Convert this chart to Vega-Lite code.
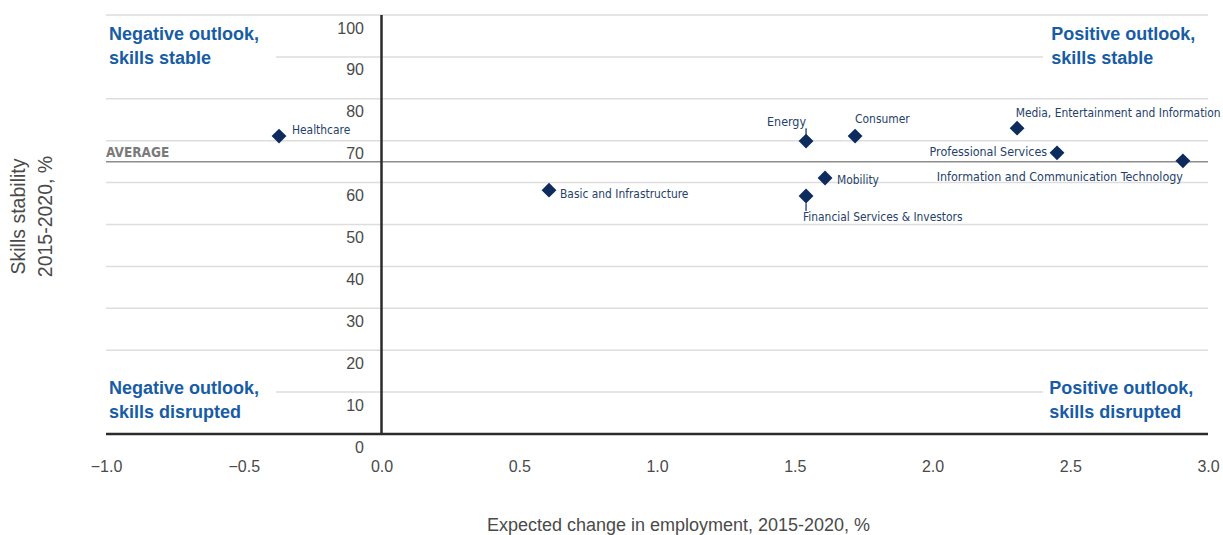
{
  "$schema": "https://vega.github.io/schema/vega-lite/v6.json",
  "width": 1102,
  "height": 419,
  "autosize": {"type": "none"},
  "padding": {"left": 106, "top": 15, "right": 15, "bottom": 101},
  "background": "white",
  "config": {"view": {"stroke": null}, "axis": {"labelFont": "Liberation Sans", "titleFont": "Liberation Sans"}},
  "datasets": {
    "points": [
      {"name": "Healthcare", "x": -0.372, "y": 71.1, "lx": -0.325, "ly": 72.6},
      {"name": "Basic and Infrastructure", "x": 0.608, "y": 58.2, "lx": 0.648, "ly": 57.3},
      {"name": "Energy", "x": 1.541, "y": 69.9, "lx": 1.541, "ly": 74.4},
      {"name": "Consumer", "x": 1.719, "y": 71.1, "lx": 1.719, "ly": 75.2},
      {"name": "Mobility", "x": 1.61, "y": 61.1, "lx": 1.653, "ly": 60.6},
      {"name": "Financial Services & Investors", "x": 1.541, "y": 56.8, "lx": 1.53, "ly": 51.9},
      {"name": "Media, Entertainment and Information", "x": 2.307, "y": 73.0, "lx": 2.302, "ly": 76.7},
      {"name": "Professional Services", "x": 2.452, "y": 67.1, "lx": 2.416, "ly": 67.4},
      {"name": "Information and Communication Technology", "x": 2.909, "y": 65.2, "lx": 2.909, "ly": 61.4}
    ],
    "grid": [
      {"y": 100, "x1": -1, "x2": 3},
      {"y": 90, "x1": -0.383, "x2": 2.401},
      {"y": 80, "x1": -1, "x2": 3},
      {"y": 70, "x1": -1, "x2": 3},
      {"y": 60, "x1": -1, "x2": 3},
      {"y": 50, "x1": -1, "x2": 3},
      {"y": 40, "x1": -1, "x2": 3},
      {"y": 30, "x1": -1, "x2": 3},
      {"y": 20, "x1": -1, "x2": 3},
      {"y": 10, "x1": -0.383, "x2": 2.401}
    ],
    "leaders": [
      {"x": 1.541, "y1": 71.1, "y2": 73.0},
      {"x": 1.541, "y1": 55.1, "y2": 53.2}
    ],
    "quadrants": [
      {"text": ["Negative outlook,", "skills stable"], "x": -0.989, "y": 95.2},
      {"text": ["Positive outlook,", "skills stable"], "x": 2.431, "y": 95.2},
      {"text": ["Negative outlook,", "skills disrupted"], "x": -0.989, "y": 10.7},
      {"text": ["Positive outlook,", "skills disrupted"], "x": 2.424, "y": 10.7}
    ],
    "average": [{"avg": 65.0, "x1": -1, "x2": 3, "label": "AVERAGE", "ly": 67.1}],
    "axes": [{"x1": -1, "x2": 3, "y1": 0, "y2": 100, "zero": 0}]
  },
  "layer": [
    {
      "data": {"name": "grid"},
      "mark": {"type": "rule", "color": "#dddddd", "strokeWidth": 1.5},
      "encoding": {
        "x": {
          "field": "x1", "type": "quantitative",
          "scale": {"domain": [-1, 3], "nice": false, "zero": false},
          "axis": {
            "title": "Expected change in employment, 2015-2020, %",
            "values": [-1, -0.5, 0, 0.5, 1, 1.5, 2, 2.5, 3],
            "format": ".1f",
            "ticks": false, "domain": false, "grid": false,
            "labelFontSize": 16, "labelColor": "#4a4a4a", "labelPadding": 32,
            "labelBaseline": "middle", "labelFlush": false,
            "titleFontSize": 18, "titleFontWeight": "normal", "titleColor": "#4a4a4a",
            "titleX": 572, "titleY": 91, "titleBaseline": "middle", "titleAlign": "center"
          }
        },
        "x2": {"field": "x2"},
        "y": {
          "field": "y", "type": "quantitative",
          "scale": {"domain": [0, 100], "nice": false},
          "axis": {
            "title": ["Skills stability", "2015-2020, %"],
            "values": [0, 10, 20, 30, 40, 50, 60, 70, 80, 90, 100],
            "offset": -275.5,
            "ticks": false, "domain": false, "grid": false,
            "labelFontSize": 16, "labelColor": "#4a4a4a", "labelPadding": 18,
            "labelOffset": 13, "labelBaseline": "middle", "labelFlush": false,
            "titleFontSize": 19.5, "titleFontWeight": "normal", "titleColor": "#4a4a4a",
            "titleAngle": -90, "titleX": -363, "titleY": 201, "titleAlign": "center",
            "titleBaseline": "middle", "titleLineHeight": 27
          }
        }
      }
    },
    {
      "data": {"name": "average"},
      "mark": {"type": "rule", "color": "#8c8c8c", "strokeWidth": 1.5},
      "encoding": {
        "x": {"field": "x1", "type": "quantitative"},
        "x2": {"field": "x2"},
        "y": {"field": "avg", "type": "quantitative"}
      }
    },
    {
      "data": {"name": "average"},
      "mark": {"type": "text", "align": "left", "baseline": "middle", "font": "DejaVu Sans Condensed, Roboto, sans-serif", "fontWeight": "bold", "fontSize": 13.5, "color": "#7a7a7a"},
      "encoding": {
        "x": {"field": "x1", "type": "quantitative"},
        "y": {"field": "ly", "type": "quantitative"},
        "text": {"field": "label"}
      }
    },
    {
      "data": {"name": "axes"},
      "mark": {"type": "rule", "color": "#2b2b2b", "strokeWidth": 2.5},
      "encoding": {
        "x": {"field": "zero", "type": "quantitative"},
        "y": {"field": "y1", "type": "quantitative"},
        "y2": {"field": "y2"}
      }
    },
    {
      "data": {"name": "axes"},
      "mark": {"type": "rule", "color": "#2b2b2b", "strokeWidth": 2.5},
      "encoding": {
        "x": {"field": "x1", "type": "quantitative"},
        "x2": {"field": "x2"},
        "y": {"field": "zero", "type": "quantitative"}
      }
    },
    {
      "data": {"name": "leaders"},
      "mark": {"type": "rule", "color": "#0d2b5c", "strokeWidth": 1.2},
      "encoding": {
        "x": {"field": "x", "type": "quantitative"},
        "y": {"field": "y1", "type": "quantitative"},
        "y2": {"field": "y2"}
      }
    },
    {
      "data": {"name": "points"},
      "mark": {"type": "point", "shape": "diamond", "filled": true, "size": 220, "color": "#0d2b5c", "opacity": 1},
      "encoding": {
        "x": {"field": "x", "type": "quantitative"},
        "y": {"field": "y", "type": "quantitative"}
      }
    },
    {
      "data": {"name": "points"},
      "transform": [{"filter": {"field": "name", "oneOf": ["Healthcare", "Basic and Infrastructure", "Consumer", "Mobility", "Financial Services & Investors", "Media, Entertainment and Information"]}}],
      "mark": {"type": "text", "align": "left", "baseline": "middle", "font": "DejaVu Sans Condensed, Roboto, sans-serif", "fontSize": 11.9, "color": "#263f6a"},
      "encoding": {
        "x": {"field": "lx", "type": "quantitative"},
        "y": {"field": "ly", "type": "quantitative"},
        "text": {"field": "name"}
      }
    },
    {
      "data": {"name": "points"},
      "transform": [{"filter": {"field": "name", "oneOf": ["Energy", "Professional Services", "Information and Communication Technology"]}}],
      "mark": {"type": "text", "align": "right", "baseline": "middle", "font": "DejaVu Sans Condensed, Roboto, sans-serif", "fontSize": 12.4, "color": "#263f6a"},
      "encoding": {
        "x": {"field": "lx", "type": "quantitative"},
        "y": {"field": "ly", "type": "quantitative"},
        "text": {"field": "name"}
      }
    },
    {
      "data": {"name": "quadrants"},
      "mark": {"type": "text", "align": "left", "baseline": "middle", "font": "Liberation Sans", "fontWeight": "bold", "fontSize": 18, "lineHeight": 24, "color": "#175ca4"},
      "encoding": {
        "x": {"field": "x", "type": "quantitative"},
        "y": {"field": "y", "type": "quantitative"},
        "text": {"field": "text"}
      }
    }
  ]
}
